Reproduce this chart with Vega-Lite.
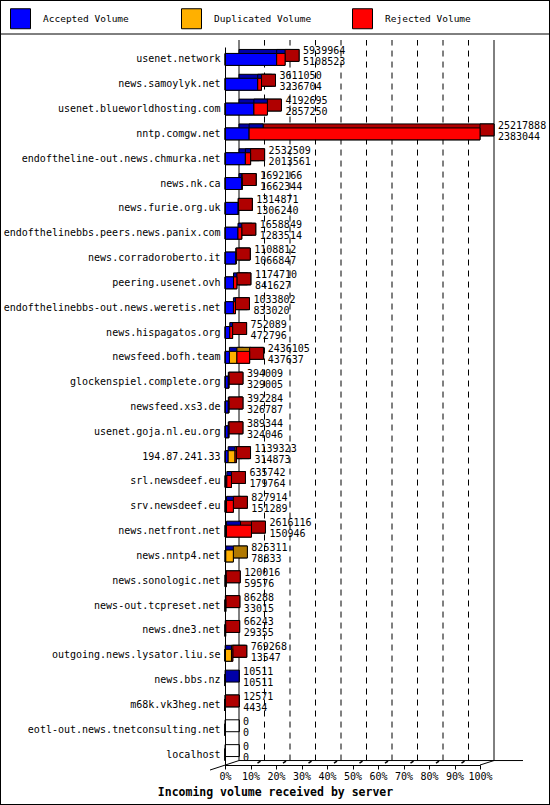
{
  "$schema": "https://vega.github.io/schema/vega-lite/v6.json",
  "width": 550,
  "height": 805,
  "autosize": {"type": "none"},
  "padding": 0,
  "background": "white",
  "config": {
    "view": {"stroke": "black", "strokeWidth": 2},
    "font": "DejaVu Sans Mono"
  },
  "datasets": {
    "segments": [
      {"server": "usenet.network", "type": "Accepted", "value": 5108523},
      {"server": "usenet.network", "type": "Rejected", "value": 831441},
      {"server": "news.samoylyk.net", "type": "Accepted", "value": 3236704},
      {"server": "news.samoylyk.net", "type": "Rejected", "value": 374346},
      {"server": "usenet.blueworldhosting.com", "type": "Accepted", "value": 2857250},
      {"server": "usenet.blueworldhosting.com", "type": "Rejected", "value": 1335445},
      {"server": "nntp.comgw.net", "type": "Accepted", "value": 2383044},
      {"server": "nntp.comgw.net", "type": "Rejected", "value": 22834844},
      {"server": "endoftheline-out.news.chmurka.net", "type": "Accepted", "value": 2013561},
      {"server": "endoftheline-out.news.chmurka.net", "type": "Rejected", "value": 518948},
      {"server": "news.nk.ca", "type": "Accepted", "value": 1662344},
      {"server": "news.nk.ca", "type": "Rejected", "value": 29822},
      {"server": "news.furie.org.uk", "type": "Accepted", "value": 1306240},
      {"server": "news.furie.org.uk", "type": "Rejected", "value": 8631},
      {"server": "endofthelinebbs.peers.news.panix.com", "type": "Accepted", "value": 1283514},
      {"server": "endofthelinebbs.peers.news.panix.com", "type": "Rejected", "value": 375335},
      {"server": "news.corradoroberto.it", "type": "Accepted", "value": 1066847},
      {"server": "news.corradoroberto.it", "type": "Rejected", "value": 41965},
      {"server": "peering.usenet.ovh", "type": "Accepted", "value": 841627},
      {"server": "peering.usenet.ovh", "type": "Rejected", "value": 333083},
      {"server": "endofthelinebbs-out.news.weretis.net", "type": "Accepted", "value": 833020},
      {"server": "endofthelinebbs-out.news.weretis.net", "type": "Rejected", "value": 200782},
      {"server": "news.hispagatos.org", "type": "Accepted", "value": 472796},
      {"server": "news.hispagatos.org", "type": "Rejected", "value": 279293},
      {"server": "newsfeed.bofh.team", "type": "Accepted", "value": 437637},
      {"server": "newsfeed.bofh.team", "type": "Duplicated", "value": 741000},
      {"server": "newsfeed.bofh.team", "type": "Rejected", "value": 1257468},
      {"server": "glockenspiel.complete.org", "type": "Accepted", "value": 329005},
      {"server": "glockenspiel.complete.org", "type": "Rejected", "value": 65004},
      {"server": "newsfeed.xs3.de", "type": "Accepted", "value": 326787},
      {"server": "newsfeed.xs3.de", "type": "Rejected", "value": 65497},
      {"server": "usenet.goja.nl.eu.org", "type": "Accepted", "value": 324046},
      {"server": "usenet.goja.nl.eu.org", "type": "Rejected", "value": 65298},
      {"server": "194.87.241.33", "type": "Accepted", "value": 314873},
      {"server": "194.87.241.33", "type": "Duplicated", "value": 680000},
      {"server": "194.87.241.33", "type": "Rejected", "value": 144450},
      {"server": "srl.newsdeef.eu", "type": "Accepted", "value": 179764},
      {"server": "srl.newsdeef.eu", "type": "Rejected", "value": 455978},
      {"server": "srv.newsdeef.eu", "type": "Accepted", "value": 151289},
      {"server": "srv.newsdeef.eu", "type": "Rejected", "value": 676625},
      {"server": "news.netfront.net", "type": "Accepted", "value": 150946},
      {"server": "news.netfront.net", "type": "Rejected", "value": 2465170},
      {"server": "news.nntp4.net", "type": "Accepted", "value": 78833},
      {"server": "news.nntp4.net", "type": "Duplicated", "value": 746478},
      {"server": "news.sonologic.net", "type": "Accepted", "value": 59576},
      {"server": "news.sonologic.net", "type": "Rejected", "value": 60440},
      {"server": "news-out.tcpreset.net", "type": "Accepted", "value": 33015},
      {"server": "news-out.tcpreset.net", "type": "Rejected", "value": 53273},
      {"server": "news.dne3.net", "type": "Accepted", "value": 29355},
      {"server": "news.dne3.net", "type": "Rejected", "value": 36888},
      {"server": "outgoing.news.lysator.liu.se", "type": "Accepted", "value": 13547},
      {"server": "outgoing.news.lysator.liu.se", "type": "Duplicated", "value": 627000},
      {"server": "outgoing.news.lysator.liu.se", "type": "Rejected", "value": 128721},
      {"server": "news.bbs.nz", "type": "Accepted", "value": 10511},
      {"server": "m68k.vk3heg.net", "type": "Accepted", "value": 4434},
      {"server": "m68k.vk3heg.net", "type": "Rejected", "value": 8137},
      {"server": "eotl-out.news.tnetconsulting.net", "type": "Accepted", "value": 0},
      {"server": "localhost", "type": "Accepted", "value": 0}
    ],
    "servers": [
      {"server": "usenet.network", "total": 5939964, "accepted": 5108523},
      {"server": "news.samoylyk.net", "total": 3611050, "accepted": 3236704},
      {"server": "usenet.blueworldhosting.com", "total": 4192695, "accepted": 2857250},
      {"server": "nntp.comgw.net", "total": 25217888, "accepted": 2383044},
      {"server": "endoftheline-out.news.chmurka.net", "total": 2532509, "accepted": 2013561},
      {"server": "news.nk.ca", "total": 1692166, "accepted": 1662344},
      {"server": "news.furie.org.uk", "total": 1314871, "accepted": 1306240},
      {"server": "endofthelinebbs.peers.news.panix.com", "total": 1658849, "accepted": 1283514},
      {"server": "news.corradoroberto.it", "total": 1108812, "accepted": 1066847},
      {"server": "peering.usenet.ovh", "total": 1174710, "accepted": 841627},
      {"server": "endofthelinebbs-out.news.weretis.net", "total": 1033802, "accepted": 833020},
      {"server": "news.hispagatos.org", "total": 752089, "accepted": 472796},
      {"server": "newsfeed.bofh.team", "total": 2436105, "accepted": 437637},
      {"server": "glockenspiel.complete.org", "total": 394009, "accepted": 329005},
      {"server": "newsfeed.xs3.de", "total": 392284, "accepted": 326787},
      {"server": "usenet.goja.nl.eu.org", "total": 389344, "accepted": 324046},
      {"server": "194.87.241.33", "total": 1139323, "accepted": 314873},
      {"server": "srl.newsdeef.eu", "total": 635742, "accepted": 179764},
      {"server": "srv.newsdeef.eu", "total": 827914, "accepted": 151289},
      {"server": "news.netfront.net", "total": 2616116, "accepted": 150946},
      {"server": "news.nntp4.net", "total": 825311, "accepted": 78833},
      {"server": "news.sonologic.net", "total": 120016, "accepted": 59576},
      {"server": "news-out.tcpreset.net", "total": 86288, "accepted": 33015},
      {"server": "news.dne3.net", "total": 66243, "accepted": 29355},
      {"server": "outgoing.news.lysator.liu.se", "total": 769268, "accepted": 13547},
      {"server": "news.bbs.nz", "total": 10511, "accepted": 10511},
      {"server": "m68k.vk3heg.net", "total": 12571, "accepted": 4434},
      {"server": "eotl-out.news.tnetconsulting.net", "total": 0, "accepted": 0},
      {"server": "localhost", "total": 0, "accepted": 0}
    ]
  },
  "resolve": {"scale": {"color": "independent"}, "legend": {"color": "independent"}},
  "layer": [
    {
      "data": {"name": "segments"},
      "transform": [
        {"stack": "value", "groupby": ["server"], "sort": [{"field": "type", "order": "ascending"}], "as": ["x0", "x1"]}
      ],
      "mark": {"type": "rect", "stroke": "black", "strokeWidth": 1, "opacity": 1},
      "encoding": {
        "y": {
          "field": "server",
          "type": "nominal",
          "scale": {
            "domain": ["usenet.network", "news.samoylyk.net", "usenet.blueworldhosting.com", "nntp.comgw.net", "endoftheline-out.news.chmurka.net", "news.nk.ca", "news.furie.org.uk", "endofthelinebbs.peers.news.panix.com", "news.corradoroberto.it", "peering.usenet.ovh", "endofthelinebbs-out.news.weretis.net", "news.hispagatos.org", "newsfeed.bofh.team", "glockenspiel.complete.org", "newsfeed.xs3.de", "usenet.goja.nl.eu.org", "194.87.241.33", "srl.newsdeef.eu", "srv.newsdeef.eu", "news.netfront.net", "news.nntp4.net", "news.sonologic.net", "news-out.tcpreset.net", "news.dne3.net", "outgoing.news.lysator.liu.se", "news.bbs.nz", "m68k.vk3heg.net", "eotl-out.news.tnetconsulting.net", "localhost"],
            "range": [47, 767],
            "paddingInner": 0.52,
            "paddingOuter": 0.26
          },
          "axis": {
            "title": null,
            "offset": -225,
            "ticks": false,
            "domainColor": "black",
            "labelPadding": 5,
            "labelFontSize": 10,
            "labelColor": "black",
            "labelLimit": 400,
            "labelFont": "DejaVu Sans Mono"
          }
        },
        "x": {
          "field": "x0",
          "type": "quantitative",
          "scale": {"domain": [0, 25217888], "range": [225, 480], "nice": false, "zero": true},
          "axis": {
            "values": [0, 2521788.8, 5043577.6, 7565366.4, 10087155.2, 12608944, 15130732.8, 17652521.6, 20174310.4, 22696099.2, 25217888],
            "labelExpr": "round(datum.value / 25217888 * 100) + '%'",
            "offset": -40,
            "grid": false,
            "domainColor": "black",
            "tickColor": "black",
            "tickSize": 4,
            "labelFontSize": 10,
            "labelColor": "black",
            "labelPadding": 2,
            "labelFlush": false,
            "labelOverlap": false,
            "labelFont": "DejaVu Sans Mono",
            "title": "Incoming volume received by server",
            "titleX": 275,
            "titleY": 27,
            "titleAlign": "center",
            "titleBaseline": "middle",
            "titleFont": "DejaVu Sans Mono",
            "titleFontWeight": "bold",
            "titleFontSize": 11.5,
            "titleColor": "black"
          }
        },
        "x2": {"field": "x1"},
        "color": {
          "field": "type",
          "type": "nominal",
          "scale": {"domain": ["Accepted", "Duplicated", "Rejected"], "range": ["#0000ff", "#ffb000", "#ff0000"]},
          "legend": {
            "orient": "none",
            "legendX": 10,
            "legendY": 8,
            "direction": "horizontal",
            "title": null,
            "labelExpr": "datum.label + ' Volume'",
            "symbolType": "square",
            "symbolSize": 400,
            "symbolStrokeColor": "black",
            "symbolStrokeWidth": 1,
            "symbolOpacity": 1,
            "labelFont": "DejaVu Sans Mono",
            "labelFontSize": 9.5,
            "labelColor": "black",
            "labelOffset": 12,
            "columnPadding": 38,
            "gridAlign": "all"
          }
        }
      }
    },
    {
      "data": {"values": [{}]},
      "mark": {"type": "rule", "color": "black", "strokeWidth": 1, "yOffset": -19.45},
      "encoding": {
        "x": {"datum": -23000000, "type": "quantitative"},
        "x2": {"datum": 33000000},
        "y": {"datum": "usenet.network", "type": "nominal", "bandPosition": 0}
      }
    },
    {
      "data": {"values": [{"v": 0}, {"v": 25217888}]},
      "mark": {"type": "rule", "color": "black", "strokeWidth": 1, "xOffset": 14, "y2Offset": -13.45},
      "encoding": {
        "x": {"field": "v", "type": "quantitative"},
        "y": {"datum": "localhost", "type": "nominal", "bandPosition": 1},
        "y2": {"datum": "usenet.network", "bandPosition": 0}
      }
    },
    {
      "data": {"values": [{"v": 2521788.8}, {"v": 5043577.6}, {"v": 7565366.4}, {"v": 10087155.2}, {"v": 12608944}, {"v": 15130732.8}, {"v": 17652521.6}, {"v": 20174310.4}, {"v": 22696099.2}]},
      "mark": {"type": "rule", "color": "black", "strokeWidth": 1, "strokeDash": [6, 5], "xOffset": 14, "y2Offset": -13.45},
      "encoding": {
        "x": {"field": "v", "type": "quantitative"},
        "y": {"datum": "localhost", "type": "nominal", "bandPosition": 1},
        "y2": {"datum": "usenet.network", "bandPosition": 0}
      }
    },
    {
      "data": {"values": [{"v": 2521788.8}, {"v": 5043577.6}, {"v": 7565366.4}, {"v": 10087155.2}, {"v": 12608944}, {"v": 15130732.8}, {"v": 17652521.6}, {"v": 20174310.4}, {"v": 22696099.2}]},
      "mark": {"type": "rule", "color": "black", "strokeWidth": 1.5, "xOffset": 7, "x2Offset": 10, "yOffset": 2.5, "y2Offset": 0.5},
      "encoding": {
        "x": {"field": "v", "type": "quantitative"},
        "x2": {"field": "v"},
        "y": {"datum": "localhost", "type": "nominal", "bandPosition": 1},
        "y2": {"datum": "localhost", "bandPosition": 1}
      }
    },
    {
      "data": {"values": [{}]},
      "mark": {"type": "rule", "color": "black", "strokeWidth": 1, "xOffset": 14},
      "encoding": {
        "x": {"datum": 0, "type": "quantitative"},
        "x2": {"datum": 29470000},
        "y": {"datum": "localhost", "type": "nominal", "bandPosition": 1}
      }
    },
    {
      "data": {"values": [{}]},
      "mark": {"type": "rule", "color": "black", "strokeWidth": 1, "xOffset": -15, "x2Offset": 14, "yOffset": 9.5},
      "encoding": {
        "x": {"datum": 0, "type": "quantitative"},
        "x2": {"datum": 0},
        "y": {"datum": "localhost", "type": "nominal", "bandPosition": 1},
        "y2": {"datum": "localhost", "bandPosition": 1}
      }
    },
    {
      "data": {"values": [{}]},
      "mark": {"type": "rule", "color": "black", "strokeWidth": 1, "x2Offset": 14, "yOffset": 4.5},
      "encoding": {
        "x": {"datum": 25217888, "type": "quantitative"},
        "x2": {"datum": 25217888},
        "y": {"datum": "localhost", "type": "nominal", "bandPosition": 1},
        "y2": {"datum": "localhost", "bandPosition": 1}
      }
    },
    {
      "data": {"name": "segments"},
      "transform": [
        {"stack": "value", "groupby": ["server"], "sort": [{"field": "type", "order": "ascending"}], "as": ["x0", "x1"]}
      ],
      "mark": {"type": "rect", "stroke": "black", "strokeWidth": 1, "xOffset": 14, "x2Offset": 14, "yOffset": -4},
      "encoding": {
        "y": {"field": "server", "type": "nominal"},
        "x": {"field": "x0", "type": "quantitative"},
        "x2": {"field": "x1"},
        "color": {
          "field": "type",
          "type": "nominal",
          "scale": {"domain": ["Accepted", "Duplicated", "Rejected"], "range": ["#0000a8", "#b07800", "#b00000"]},
          "legend": null,
          "condition": {"test": "datum.value == 0", "value": "white"}
        }
      }
    },
    {
      "data": {"name": "segments"},
      "transform": [
        {"stack": "value", "groupby": ["server"], "sort": [{"field": "type", "order": "ascending"}], "as": ["x0", "x1"]}
      ],
      "mark": {"type": "rect", "stroke": "black", "strokeWidth": 1, "x2Offset": 14, "yOffset": -4},
      "encoding": {
        "y": {"field": "server", "type": "nominal"},
        "x": {"field": "x1", "type": "quantitative"},
        "x2": {"field": "x1"},
        "color": {
          "field": "type",
          "type": "nominal",
          "scale": {"domain": ["Accepted", "Duplicated", "Rejected"], "range": ["#0000a8", "#b07800", "#b00000"]},
          "legend": null,
          "condition": {"test": "datum.value == 0", "value": "white"}
        }
      }
    },
    {
      "data": {"name": "segments"},
      "transform": [
        {"stack": "value", "groupby": ["server"], "sort": [{"field": "type", "order": "ascending"}], "as": ["x0", "x1"]}
      ],
      "mark": {"type": "rect", "stroke": "black", "strokeWidth": 1, "opacity": 1},
      "encoding": {
        "y": {"field": "server", "type": "nominal"},
        "x": {"field": "x0", "type": "quantitative"},
        "x2": {"field": "x1"},
        "color": {
          "field": "type",
          "type": "nominal",
          "scale": {"domain": ["Accepted", "Duplicated", "Rejected"], "range": ["#0000ff", "#ffb000", "#ff0000"]},
          "legend": null
        }
      }
    },
    {
      "data": {"name": "servers"},
      "mark": {"type": "text", "align": "left", "baseline": "middle", "dx": 18, "dy": -8, "fontSize": 10, "font": "DejaVu Sans Mono", "color": "black"},
      "encoding": {
        "y": {"field": "server", "type": "nominal"},
        "x": {"field": "total", "type": "quantitative"},
        "text": {"field": "total", "type": "quantitative", "format": "d"}
      }
    },
    {
      "data": {"name": "servers"},
      "mark": {"type": "text", "align": "left", "baseline": "middle", "dx": 18, "dy": 3, "fontSize": 10, "font": "DejaVu Sans Mono", "color": "black"},
      "encoding": {
        "y": {"field": "server", "type": "nominal"},
        "x": {"field": "total", "type": "quantitative"},
        "text": {"field": "accepted", "type": "quantitative", "format": "d"}
      }
    }
  ]
}
